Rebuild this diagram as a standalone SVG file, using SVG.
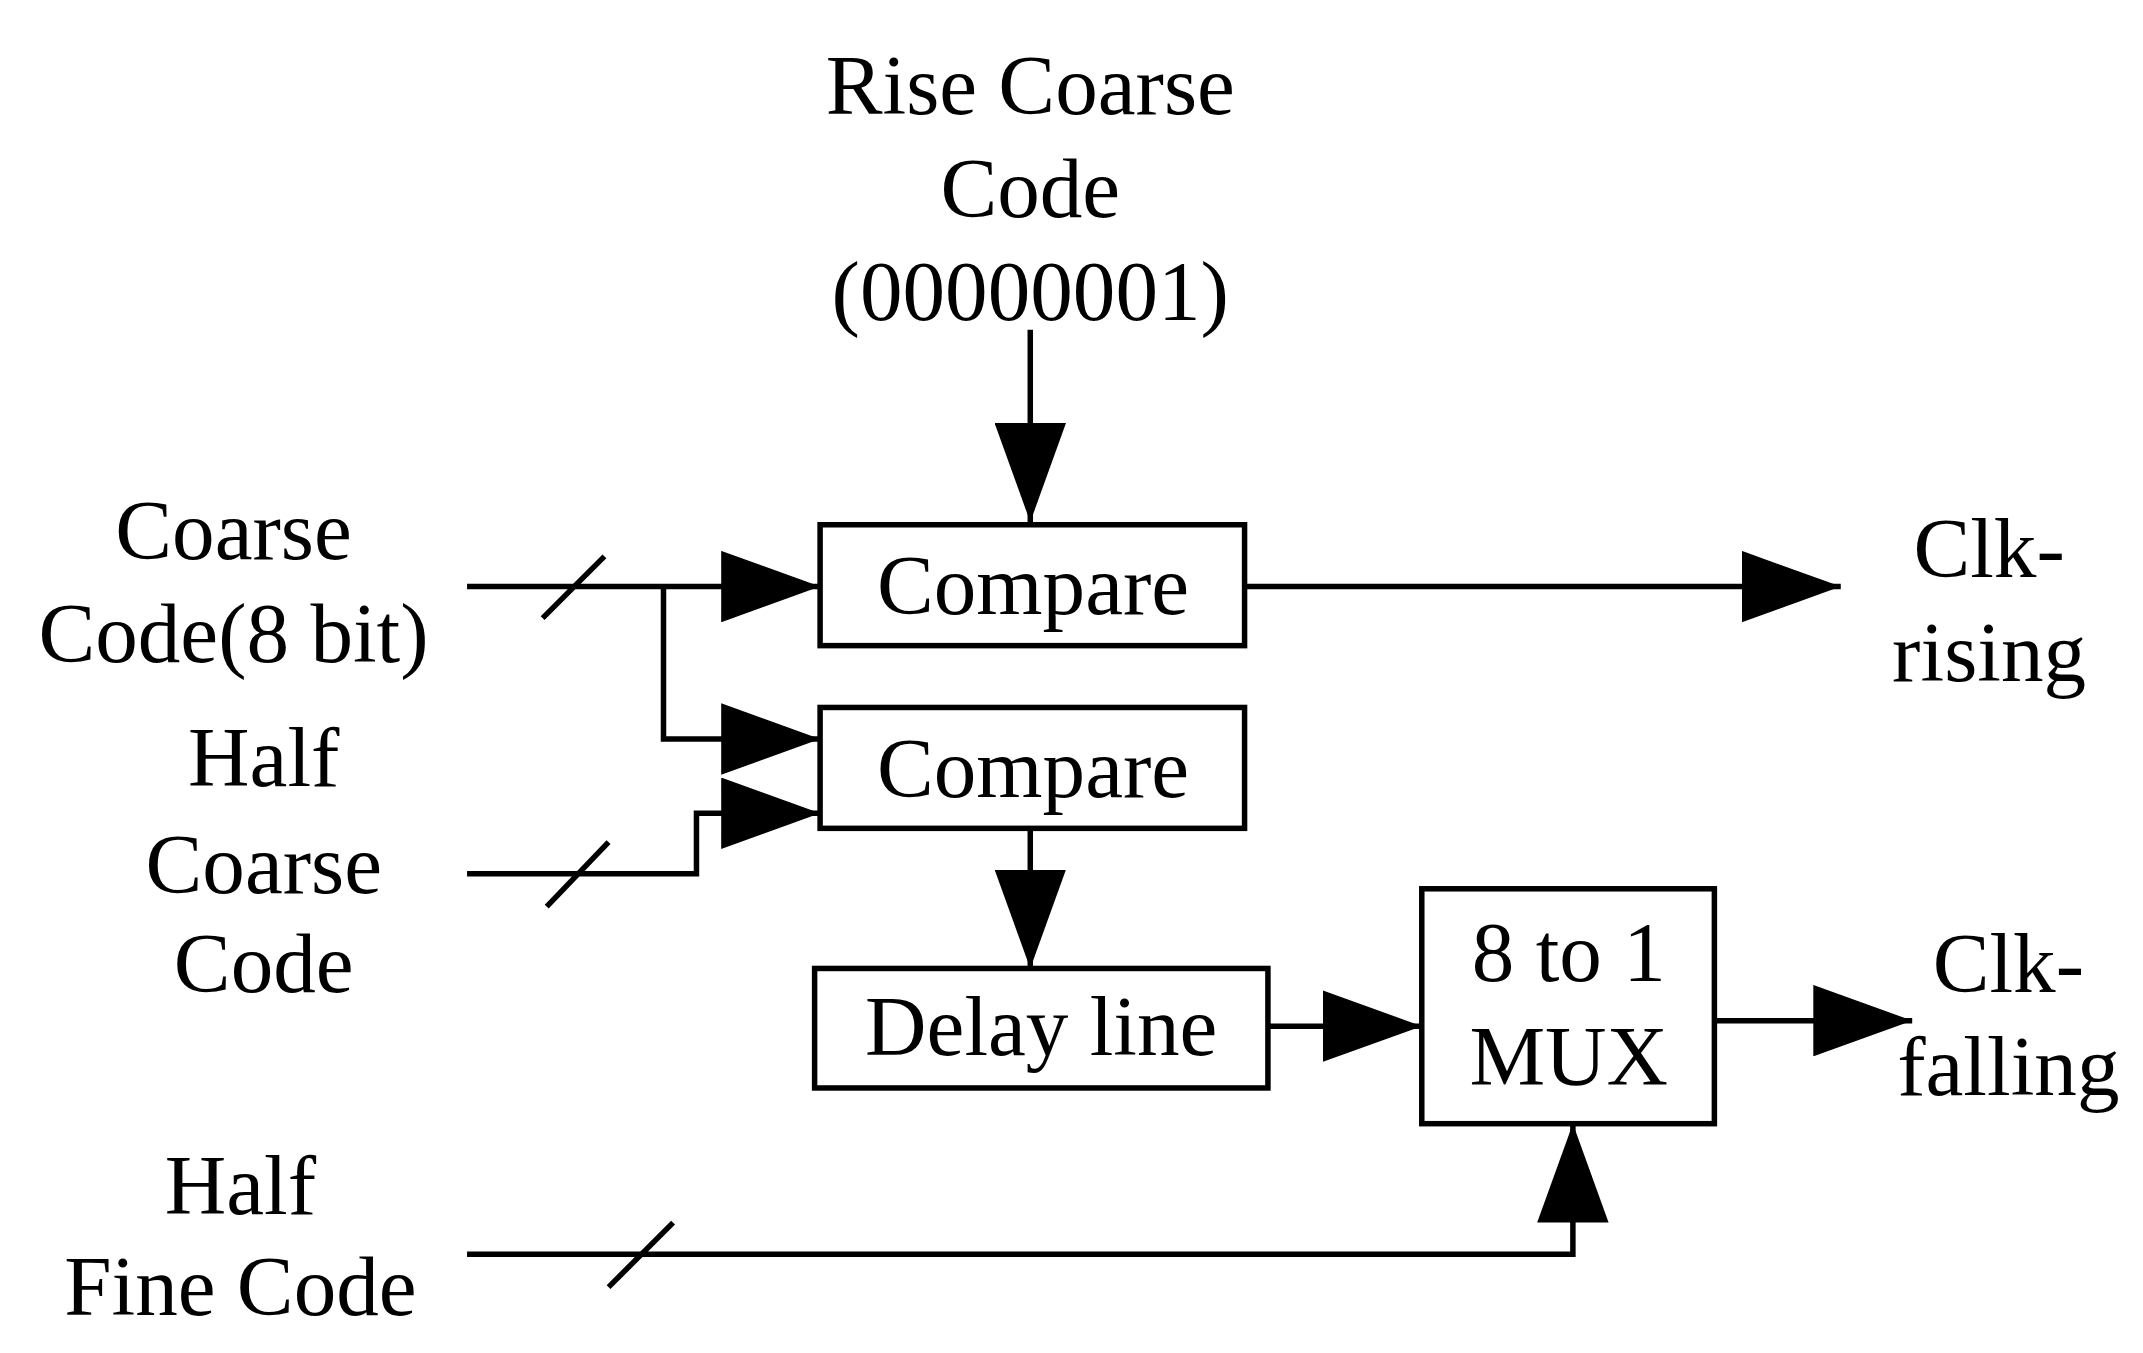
<svg xmlns="http://www.w3.org/2000/svg" width="2143" height="1353" viewBox="0 0 2143 1353">
<style>
text{font-family:"Liberation Serif","Times New Roman",serif;font-size:62px;fill:#000;text-anchor:middle}
.b{fill:#fff;stroke:#000;stroke-width:4}
.w{fill:none;stroke:#000;stroke-width:4}
</style>
<defs><marker id="a" markerUnits="userSpaceOnUse" markerWidth="72" markerHeight="52" refX="72" refY="26" orient="auto"><path d="M0,0L72,26L0,52Z" fill="#000"/></marker></defs>
<rect width="2143" height="1353" fill="#fff"/>
<g transform="scale(1.3737)">
<g id="connectors">
<path class="w" d="M750,240V380" marker-end="url(#a)"/>
<path class="w" d="M340,427H597" marker-end="url(#a)"/>
<path class="w" d="M395,450L440,405"/>
<path class="w" d="M483,427V538H597" marker-end="url(#a)"/>
<path class="w" d="M340,636H507V592H597" marker-end="url(#a)"/>
<path class="w" d="M398,660L443,613"/>
<path class="w" d="M750,603V705" marker-end="url(#a)"/>
<path class="w" d="M906,427H1340" marker-end="url(#a)"/>
<path class="w" d="M923,747H1035" marker-end="url(#a)"/>
<path class="w" d="M1248,743H1392" marker-end="url(#a)"/>
<path class="w" d="M340,913H1145V818" marker-end="url(#a)"/>
<path class="w" d="M443,937L490,890"/>
</g>
<g id="compare1"><rect class="b" x="597" y="382" width="309" height="88"/><text x="752" y="447">Compare</text></g>
<g id="compare2"><rect class="b" x="597" y="515" width="309" height="88"/><text x="752" y="580">Compare</text></g>
<g id="delay"><rect class="b" x="593" y="705" width="330" height="87"/><text x="758" y="768">Delay line</text></g>
<g id="mux"><rect class="b" x="1035" y="647" width="213" height="171"/><text x="1142" y="714">8 to 1</text><text x="1142" y="790">MUX</text></g>
<g id="labels">
<text x="750" y="83">Rise Coarse</text><text x="750" y="158">Code</text><text x="750" y="233">(00000001)</text>
<text x="170" y="407">Coarse</text><text x="170" y="482">Code(8 bit)</text>
<text x="192" y="572">Half</text><text x="192" y="650">Coarse</text><text x="192" y="722">Code</text>
<text x="175" y="884">Half</text><text x="175" y="957">Fine Code</text>
<text x="1448" y="420">Clk-</text><text x="1448" y="496">rising</text>
<text x="1462" y="722">Clk-</text><text x="1462" y="797">falling</text>
</g>
</g>
</svg>
